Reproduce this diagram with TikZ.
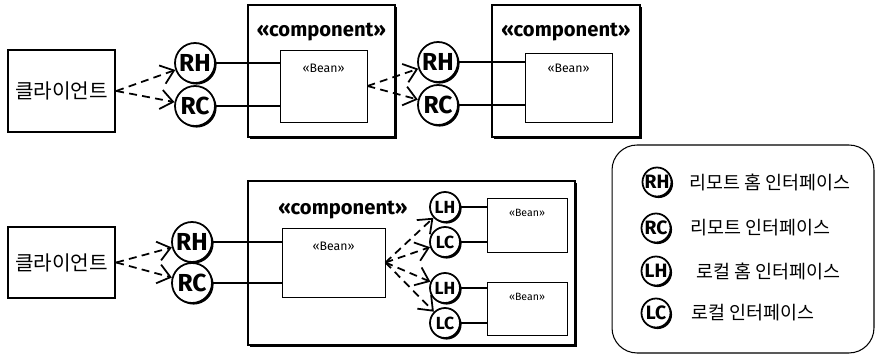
\documentclass[tikz,border=0pt]{standalone}
\usepackage{fontspec}
\setmainfont{Fira Sans}
\newfontfamily\kr{Noto Sans CJK KR}
\usetikzlibrary{positioning,arrows.meta,shadows}

\tikzset{
	shadowed/.style = {drop shadow = {shadow xshift = 0.9pt, shadow yshift = -0.9pt, fill = black, opacity = 1}},
	client/.style = {draw, line width = 1.4pt, fill = white, font = \kr\fontsize{11.5}{13}\selectfont},
	comp/.style = {draw, line width = 0.7pt, fill = white, shadowed},
	bean/.style = {draw, line width = 0.5pt, fill = white},
	iface/.style = {circle, draw, line width = 1pt, fill = white, shadowed, inner sep = 0pt, minimum size = 0.8cm, font = \bfseries\fontsize{14}{15}\selectfont},
	smalliface/.style = {iface, minimum size = 0.6cm, font = \bfseries\fontsize{10}{11}\selectfont},
	keyiface/.style = {iface, minimum size = 0.58cm, font = \bfseries\fontsize{11}{12}\selectfont},
	stereo/.style = {inner sep = 0pt, font = \bfseries\fontsize{11.5}{13}\selectfont},
	beantext/.style = {inner sep = 0pt, font = \fontsize{7}{8}\selectfont},
	keytext/.style = {inner sep = 0pt, anchor = west, font = \kr\fontsize{10.5}{12}\selectfont},
	dep/.style = {dash pattern = on 4.5pt off 3pt, line width = 1pt, -{Straight Barb[length = 7pt, width = 11pt, line width = 1pt]}},
	wire/.style = {line width = 1pt},
}

\begin{document}
\begin{tikzpicture} [x = 0.02cm, y = -0.02cm]
	\useasboundingbox (0,0) rectangle (877,357);
	% upper row
	\node [comp, minimum width = 2.94cm, minimum height = 2.64cm] (comp1) at (321.5,71) {};
	\node [comp, minimum width = 2.96cm, minimum height = 2.64cm] (comp2) at (566,71) {};
	\node [stereo] (comp1label) at (321.5,32) {«component»};
	\node [stereo] (comp2label) at (566,32) {«component»};
	\node [client, minimum width = 2.14cm, minimum height = 1.64cm] (client1) at (61.5,91) {클라이언트};
	\node [iface] (rh1) at (195,63) {RH};
	\node [iface] (rc1) at (195,106) {RC};
	\node [iface] (rh2) at (438,62) {RH};
	\node [iface] (rc2) at (438,105) {RC};
	\node [bean, minimum width = 1.74cm, minimum height = 1.44cm] (bean1) at (323.5,86) {};
	\node [beantext, below = 0.28cm of bean1.north] (bean1label) {«Bean»};
	\node [bean, minimum width = 1.74cm, minimum height = 1.38cm] (bean2) at (568.5,87.5) {};
	\node [beantext, below = 0.22cm of bean2.north] (bean2label) {«Bean»};
	\draw [wire] (rh1) -- (rh1 -| bean1.west);
	\draw [wire] (rc1) -- (rc1 -| bean1.west);
	\draw [wire] (rh2) -- (rh2 -| bean2.west);
	\draw [wire] (rc2) -- (rc2 -| bean2.west);
	\draw [dep] (client1.east) -- (rh1);
	\draw [dep] (client1.east) -- (rc1);
	\draw [dep] (bean1.east) -- (rh2);
	\draw [dep] (bean1.east) -- (rc2);
	% lower row
	\node [comp, minimum width = 6.54cm, minimum height = 3.28cm] (comp3) at (411.5,263) {};
	\node [stereo] (comp3label) at (343,210) {«component»};
	\node [client, minimum width = 2.14cm, minimum height = 1.42cm] (client2) at (61.5,262.5) {클라이언트};
	\node [iface] (rh3) at (192,242) {RH};
	\node [iface] (rc3) at (192,283) {RC};
	\node [bean, minimum width = 2.06cm, minimum height = 1.38cm] (bean3) at (333.5,262.5) {};
	\node [beantext, below = 0.28cm of bean3.north] (bean3label) {«Bean»};
	\node [smalliface] (lh1) at (445,207) {LH};
	\node [smalliface] (lc1) at (445,242) {LC};
	\node [smalliface] (lh2) at (445,288) {LH};
	\node [smalliface] (lc2) at (445,323) {LC};
	\node [bean, minimum width = 1.6cm, minimum height = 1.08cm] (bean4) at (527,225) {};
	\node [beantext, font = \fontsize{6}{7}\selectfont, below = 0.22cm of bean4.north] (bean4label) {«Bean»};
	\node [bean, minimum width = 1.6cm, minimum height = 1.06cm] (bean5) at (527,308.5) {};
	\node [beantext, font = \fontsize{6}{7}\selectfont, below = 0.22cm of bean5.north] (bean5label) {«Bean»};
	\draw [wire] (rh3) -- (rh3 -| bean3.west);
	\draw [wire] (rc3) -- (rc3 -| bean3.west);
	\draw [wire, line width = 0.7pt] (lh1) -- (lh1 -| bean4.west);
	\draw [wire, line width = 0.7pt] (lc1) -- (lc1 -| bean4.west);
	\draw [wire, line width = 0.7pt] (lh2) -- (lh2 -| bean5.west);
	\draw [wire, line width = 0.7pt] (lc2) -- (lc2 -| bean5.west);
	\draw [dep] (client2.east) -- (rh3);
	\draw [dep] (client2.east) -- (rc3);
	\draw [dep] (bean3.east) -- (lh1);
	\draw [dep] (bean3.east) -- (lc1);
	\draw [dep] (bean3.east) -- (lh2);
	\draw [dep] (bean3.east) -- (lc2);
	% legend
	\node [draw, line width = 0.6pt, rounded corners = 0.5cm, minimum width = 5.24cm, minimum height = 4.16cm] (legend) at (743,249) {};
	\node [keyiface] (keyrh) at (657,182) {RH};
	\node [keyiface] (keyrc) at (656,228) {RC};
	\node [keyiface] (keylh) at (656,271) {LH};
	\node [keyiface] (keylc) at (656,313) {LC};
	\node [keytext, right = 0.34cm of keyrh] (keyrhtext) {리모트 홈 인터페이스};
	\node [keytext, right = 0.38cm of keyrc] (keyrctext) {리모트 인터페이스};
	\node [keytext, right = 0.5cm of keylh] (keylhtext) {로컬 홈 인터페이스};
	\node [keytext, right = 0.4cm of keylc] (keylctext) {로컬 인터페이스};
\end{tikzpicture}
\end{document}
